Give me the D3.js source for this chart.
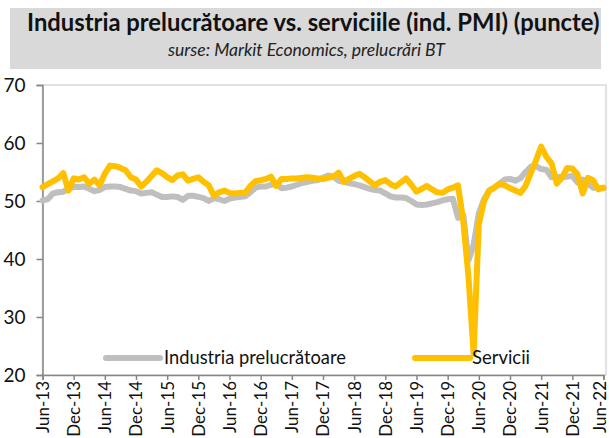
<!DOCTYPE html>
<html><head><meta charset="utf-8">
<script src="https://cdn.jsdelivr.net/npm/d3@7"></script>
<style>body{margin:0;background:#fff} svg{display:block}</style>
</head><body><svg id="c" width="609" height="438"></svg>
<script>
// ---- data ----
const startMonth = "2013-06"; // first category (Jun-13), monthly up to Jun-22
const tickLabels = ["Jun-13","Dec-13","Jun-14","Dec-14","Jun-15","Dec-15","Jun-16","Dec-16","Jun-17","Dec-17","Jun-18","Dec-18","Jun-19","Dec-19","Jun-20","Dec-20","Jun-21","Dec-21","Jun-22"];
const seriesNames = ["Industria prelucrătoare","Servicii"];
const manufacturing = [
 50.1,50.3,51.3,51.5,51.6,52.2,52.4,52.4,52.5,52.1,51.7,51.9,
 52.4,52.5,52.5,52.4,52.1,51.8,51.7,51.3,51.4,51.5,51.1,50.7,
 50.7,50.8,50.7,50.2,50.9,50.9,50.7,50.5,50.0,50.5,50.3,50.0,
 50.4,50.6,50.7,50.8,51.5,52.3,52.5,52.5,52.8,53.0,52.2,52.3,
 52.5,52.8,53.1,53.3,53.5,53.6,54.0,54.4,54.2,53.5,53.3,53.1,
 52.9,52.7,52.4,52.1,51.9,51.8,51.3,50.8,50.6,50.6,50.5,50.0,
 49.4,49.3,49.4,49.6,49.8,50.1,50.3,50.4,47.1,47.6,39.8,42.4,
 47.9,50.3,51.8,52.3,53.0,53.7,53.8,53.5,53.9,55.0,55.9,56.0,
 55.5,55.4,54.1,54.1,54.2,54.2,54.3,53.2,53.7,53.0,52.3,52.3,
 52.2];
const services = [
 52.4,52.9,53.4,53.9,54.8,51.8,53.9,53.7,54.1,53.0,53.7,52.7,
 54.7,56.1,56.0,55.7,55.3,54.1,53.7,52.5,53.3,54.3,55.3,54.8,
 54.1,53.6,54.4,54.6,53.5,53.8,54.1,53.3,52.7,50.9,51.5,51.8,
 51.4,51.3,51.4,51.4,52.6,53.4,53.6,53.8,54.2,52.6,53.8,53.8,
 53.9,53.9,54.0,54.1,54.0,53.9,53.8,54.0,54.2,54.9,53.3,53.8,
 54.3,54.7,54.1,53.4,52.7,53.3,53.6,52.9,52.5,53.2,53.9,52.8,
 51.6,52.1,52.6,52.0,51.5,51.4,52.0,52.3,52.7,46.5,37.0,23.7,
 46.0,50.0,51.8,52.3,53.0,52.7,52.2,51.8,51.4,52.6,54.8,57.0,
 59.4,57.6,56.5,53.0,54.0,55.7,55.6,54.6,51.3,54.0,53.6,52.0,
 52.3];
const yTicks = [20,30,40,50,60,70];
const title = "Industria prelucrătoare vs. serviciile (ind. PMI) (puncte)";
const subtitle = "surse: Markit Economics, prelucrări BT";

// ---- drawing ----
const svg = d3.select("#c");
const FONT = "Lato, 'Noto Sans', sans-serif";
const L = 42.5, R = 606, T = 85, B = 375;
const n = manufacturing.length;
const x = d3.scaleLinear().domain([0, n - 1]).range([L, 603.5]);
const y = d3.scaleLinear().domain([20, 70]).range([B, T]);

function fit(t, w){ const l = t.node().getComputedTextLength(); const fs = parseFloat(t.attr("font-size")); t.attr("font-size", fs * w / l); }

// title box
svg.append("rect").attr("x", 10).attr("y", 8).attr("width", 591).attr("height", 61).attr("fill", "#d9d9d9");
const tt = svg.append("text").attr("x", 27).attr("y", 31).attr("font-family", FONT).attr("font-weight", "bold")
  .attr("font-size", 20).attr("fill", "#111").text(title);
fit(tt, 573);
const st = svg.append("text").attr("x", 168).attr("y", 56).attr("font-family", FONT).attr("font-style", "italic")
  .attr("font-size", 16).attr("fill", "#222").text(subtitle);
fit(st, 277);

// plot frame
svg.append("rect").attr("x", L).attr("y", T).attr("width", R - L).attr("height", B - T)
  .attr("fill", "none").attr("stroke", "#d9d9d9").attr("stroke-width", 1.5);

// axes
const yAxis = svg.append("g").attr("transform", `translate(${L},0)`)
  .call(d3.axisLeft(y).tickValues(yTicks).tickSize(6).tickPadding(11).tickFormat(d3.format("d")));
const xAxis = svg.append("g").attr("transform", `translate(0,${B})`)
  .call(d3.axisBottom(x).tickValues(d3.range(0, n, 6)).tickSize(5).tickFormat((d, i) => tickLabels[i]));
[yAxis, xAxis].forEach(g => {
  g.select(".domain").attr("stroke", "#868686").attr("stroke-width", 1.5);
  g.selectAll(".tick line").attr("stroke", "#868686").attr("stroke-width", 1.5);
  g.selectAll("text").attr("font-family", FONT).attr("fill", "#111");
});
yAxis.selectAll("text").attr("font-size", 19);
xAxis.selectAll(".tick text").attr("font-size", 17).attr("transform", "rotate(-90)").attr("text-anchor", "end")
  .attr("x", -6).attr("y", 0).attr("dy", "0.35em");
// keep the last rotated label inside the right edge
xAxis.selectAll(".tick").filter((d, i, nodes) => i === nodes.length - 1).select("text").attr("dy", "0.1em");

// lines
const line = d3.line().x((d, i) => x(i)).y(d => y(d));
svg.append("path").datum(manufacturing).attr("d", line).attr("fill", "none")
  .attr("stroke", "#bfbfbf").attr("stroke-width", 6).attr("stroke-linejoin", "round").attr("stroke-linecap", "round");
svg.append("path").datum(services).attr("d", line).attr("fill", "none")
  .attr("stroke", "#ffc000").attr("stroke-width", 6).attr("stroke-linejoin", "round").attr("stroke-linecap", "round");

// legend
const legend = [{name: seriesNames[0], color: "#bfbfbf", x0: 106, x1: 160, tx: 164, tw: 182},
                {name: seriesNames[1], color: "#ffc000", x0: 415, x1: 470, tx: 472, tw: 58}];
legend.forEach(l => {
  svg.append("line").attr("x1", l.x0).attr("x2", l.x1).attr("y1", 358).attr("y2", 358)
    .attr("stroke", l.color).attr("stroke-width", 6).attr("stroke-linecap", "round");
  const t = svg.append("text").attr("x", l.tx).attr("y", 364).attr("font-family", FONT).attr("font-size", 17)
    .attr("fill", "#111").text(l.name);
  fit(t, l.tw);
});
</script></body></html>
